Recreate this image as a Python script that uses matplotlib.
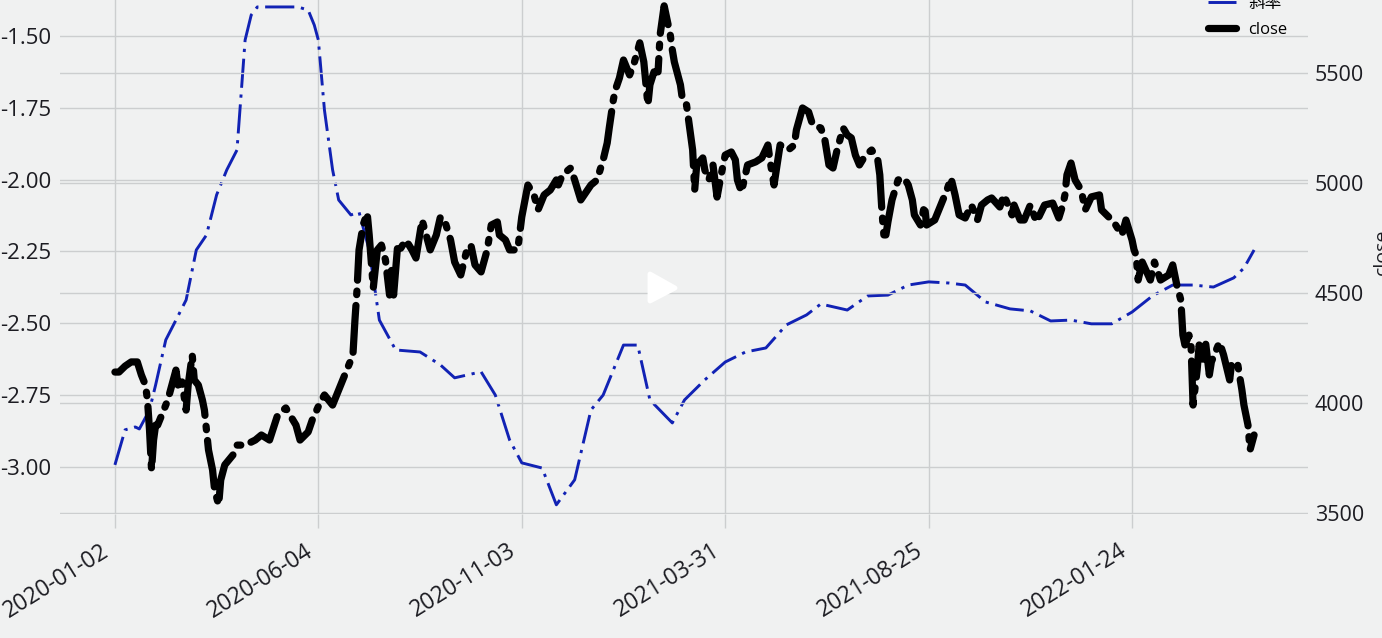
import matplotlib
matplotlib.use('Agg')
import matplotlib.pyplot as plt
from matplotlib.patches import Polygon

plt.rcParams['font.family'] = ['Open Sans', 'Noto Sans CJK SC', 'DejaVu Sans']

# x positions are trading day numbers counted from the first date
slope_x = [0, 5, 10, 12, 17, 20, 25, 30, 35, 40, 45, 50, 55, 60, 64, 67, 70, 80, 90, 95,
           98, 100, 103, 107, 110, 116, 120, 125, 130, 138, 150, 160, 167, 180, 187, 194, 200, 210, 217, 226,
           234, 240, 250, 257, 263, 274, 280, 290, 300, 310, 320, 330, 340, 347, 360, 370, 380, 390, 400, 410,
           418, 428, 440, 450, 460, 470, 480, 490, 500, 510, 520, 530, 540, 550, 555, 560]
slope = [-2.993, -2.871, -2.861, -2.868, -2.802, -2.715, -2.558, -2.489, -2.419, -2.245,
         -2.193, -2.053, -1.966, -1.897, -1.514, -1.427, -1.399, -1.399, -1.399, -1.41,
         -1.462, -1.514, -1.758, -1.966, -2.071, -2.123, -2.113, -2.245, -2.489, -2.593,
         -2.6, -2.645, -2.69, -2.669, -2.75, -2.906, -2.986, -3.004, -3.132, -3.045,
         -2.802, -2.75, -2.576, -2.576, -2.767, -2.847, -2.767, -2.697, -2.635, -2.6,
         -2.586, -2.506, -2.471, -2.433, -2.454, -2.405, -2.402, -2.367, -2.356, -2.36,
         -2.367, -2.426, -2.45, -2.457, -2.492, -2.489, -2.502, -2.502, -2.461, -2.405,
         -2.367, -2.367, -2.374, -2.342, -2.308, -2.245]

close_x = [0, 2, 5, 8, 11, 13, 15, 16, 17, 18, 19, 20, 21, 23, 26, 28, 30, 31, 33, 35,
           36, 38, 39, 41, 43, 44, 46, 48, 49, 51, 52, 54, 58, 60, 64, 69, 72, 76, 80, 84,
           86, 89, 91, 95, 97, 101, 103, 107, 109, 113, 117, 118, 119, 120, 122, 124, 125, 127, 129, 131,
           133, 135, 136, 137, 139, 140, 143, 146, 148, 151, 153, 155, 158, 160, 162, 165, 167, 170, 173, 175,
           177, 180, 183, 185, 188, 189, 192, 194, 198, 200, 203, 206, 208, 211, 214, 217, 218, 220, 224, 226,
           229, 234, 237, 240, 242, 243, 245, 246, 248, 250, 253, 255, 258, 260, 262, 263, 265, 267, 268, 270,
           272, 273, 274, 275, 278, 279, 281, 284, 285, 286, 289, 290, 292, 294, 296, 298, 300, 303, 305, 306,
           308, 311, 315, 318, 321, 322, 324, 327, 331, 334, 335, 338, 341, 343, 347, 349, 351, 353, 355, 358,
           360, 362, 364, 366, 369, 372, 375, 376, 377, 378, 379, 380, 382, 385, 388, 390, 392, 393, 396, 398,
           399, 403, 406, 409, 411, 413, 415, 418, 421, 424, 426, 429, 431, 435, 437, 441, 442, 445, 447, 450,
           453, 457, 461, 464, 466, 467, 468, 470, 472, 475, 477, 480, 484, 485, 491, 495, 497, 500, 501, 502,
           503, 505, 509, 511, 514, 518, 520, 522, 524, 525, 526, 528, 529, 530, 532, 533, 535, 536, 538, 539,
           543, 545, 548, 549, 552, 554, 555, 557, 558, 560]
close = [4141, 4141, 4168, 4187, 4187, 4128, 4082, 4014, 3878, 3696, 3832, 3900, 3900, 3946, 4014, 4082, 4150, 4082, 4096, 3968,
         4082, 4219, 4105, 4082, 4014, 3968, 3787, 3696, 3605, 3537, 3650, 3719, 3764, 3809, 3809, 3832, 3855, 3832, 3946, 3978,
         3946, 3900, 3832, 3869, 3923, 4005, 4037, 3991, 4037, 4128, 4219, 4378, 4514, 4696, 4809, 4864, 4764, 4523, 4696, 4718,
         4650, 4491, 4605, 4491, 4718, 4696, 4741, 4696, 4659, 4832, 4764, 4696, 4764, 4846, 4832, 4741, 4641, 4582, 4696, 4718,
         4628, 4596, 4696, 4809, 4823, 4764, 4741, 4696, 4696, 4846, 4991, 4946, 4878, 4946, 4968, 5014, 4991, 5037, 5068, 5014,
         4923, 4991, 5014, 5105, 5182, 5250, 5377, 5423, 5477, 5559, 5491, 5537, 5637, 5550, 5355, 5446, 5505, 5505, 5673, 5805,
         5718, 5673, 5605, 5550, 5446, 5377, 5355, 5150, 4968, 5082, 5114, 5059, 5014, 5082, 4936, 5037, 5127, 5141, 5105, 5014,
         4959, 5082, 5096, 5114, 5173, 5105, 4991, 5173, 5150, 5173, 5241, 5341, 5323, 5264, 5250, 5196, 5082, 5068, 5150, 5250,
         5218, 5205, 5127, 5082, 5127, 5150, 5105, 5037, 4878, 4764, 4764, 4823, 4923, 5014, 5023, 4991, 4923, 4855, 4809, 4900,
         4809, 4832, 4900, 4968, 5023, 4946, 4855, 4841, 4900, 4832, 4900, 4923, 4932, 4891, 4946, 4855, 4900, 4832, 4832, 4900,
         4823, 4900, 4909, 4841, 4900, 4946, 5037, 5091, 5014, 4968, 4878, 4937, 4946, 4878, 4823, 4764, 4832, 4741, 4696, 4673,
         4559, 4641, 4559, 4641, 4559, 4582, 4628, 4537, 4468, 4309, 4264, 4309, 4264, 3991, 4150, 4264, 4196, 4287, 4128, 4187,
         4277, 4219, 4105, 4187, 4173, 4060, 3991, 3900, 3787, 3855]

date_pos = [0, 100, 200, 300, 400, 500]
date_labels = ['2020-01-02', '2020-06-04', '2020-11-03', '2021-03-31', '2021-08-25', '2022-01-24']
slope_ticks = [-3.0, -2.75, -2.5, -2.25, -2.0, -1.75, -1.5]
close_ticks = [3500, 4000, 4500, 5000, 5500]

bg = '#f0f1f1'
grid = '#cccecf'
ink = '#1c1c22'

fig = plt.figure(figsize=(13.82, 6.38), dpi=100, facecolor=bg)
ax = fig.add_axes([60 / 1382, 1 - 514 / 638, 1248 / 1382, 524 / 638], facecolor=bg)
ax2 = ax.twinx()

l1, = ax.plot(slope_x, slope, color='#1122b4', lw=2.1, label='斜率',
              dashes=(10, 2.3, 1.1, 2.3), dash_joinstyle='round')
l2, = ax2.plot(close_x, close, color='black', lw=5.2, label='close',
               dashes=(6.5, 1.5, 0.5, 1.5), dash_capstyle='round', dash_joinstyle='round')

ax.set_xlim(-27, 586.5)
ax.set_ylim(-3.164, -1.34)
ax2.set_ylim(3496, 5877)

ax.set_xticks(date_pos)
ax.set_xticklabels([])
# date labels end left of their ticks, tick labels can't be shifted sideways
for pos, lab in zip(date_pos, date_labels):
    ax.annotate(lab, xy=(pos, 0), xycoords=('data', 'axes fraction'), xytext=(-10, -18),
                textcoords='offset points', rotation=32, ha='right', va='top',
                rotation_mode='anchor', fontsize=16.5, color=ink, annotation_clip=False)
ax.set_yticks(slope_ticks)
ax.set_yticklabels(['%.2f' % v for v in slope_ticks], fontsize=16, color=ink)
ax2.set_yticks(close_ticks)
ax2.tick_params(axis='y', length=0, pad=5, labelsize=15.5, labelcolor=ink)
ax.tick_params(axis='y', length=0, pad=6)
ax.tick_params(axis='x', length=10, width=1, color=grid, pad=8)

ax.grid(True, color=grid, lw=1.0)
ax2.grid(True, axis='y', color=grid, lw=1.0)
ax.set_axisbelow(True)
ax2.set_axisbelow(True)
for a in (ax, ax2):
    for s in a.spines.values():
        s.set_visible(False)

ax2.set_ylabel('close', fontsize=14, color=ink, labelpad=6)

fig.legend(handles=[l1, l2], loc='upper right', bbox_to_anchor=(1296 / 1382, 1 + 12 / 638),
           frameon=False, fontsize=12, handlelength=1.67, labelspacing=0.6, borderpad=0, handletextpad=0.75)

# white play button sitting on top of the chart
play = Polygon([(650 / 1382, 1 - 274 / 638), (650 / 1382, 1 - 301 / 638), (675 / 1382, 1 - 288 / 638)],
               closed=True, facecolor='white', edgecolor='white', lw=3.5, joinstyle='round',
               transform=fig.transFigure)
fig.add_artist(play)

fig.savefig('out.png', dpi=100, facecolor=bg)
